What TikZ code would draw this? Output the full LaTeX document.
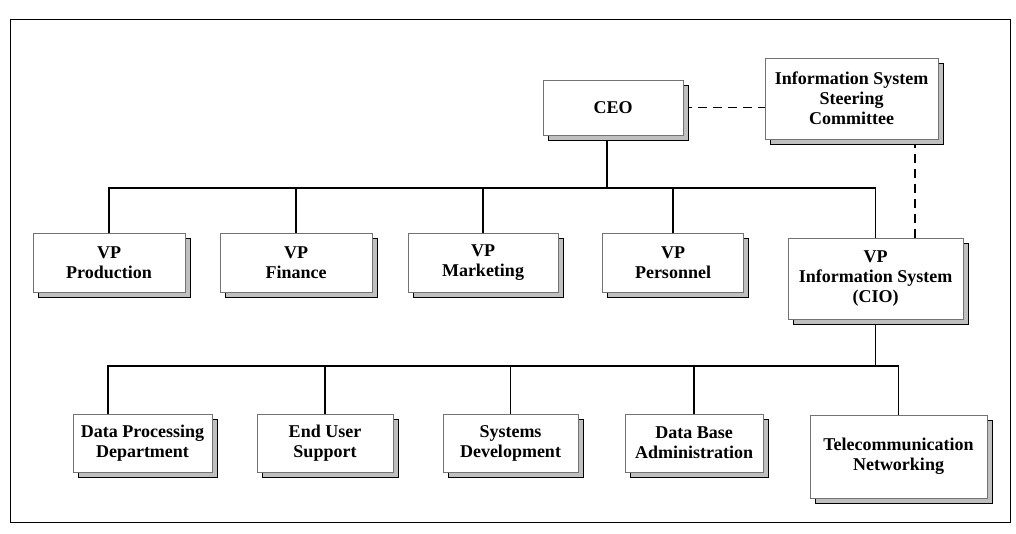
\documentclass[tikz,border=0pt]{standalone}
\usepackage{fontspec}
\setmainfont{Liberation Serif}
\usetikzlibrary{positioning,shadows,backgrounds}

\tikzset{
  orgbox/.style={rectangle,draw=black!55,line width=0.5pt,fill=white,align=center,
    inner sep=2pt,font=\bfseries\fontsize{18}{20}\selectfont,
    general shadow={fill=gray!50,draw=black,line width=1pt,rounded corners=2pt,
      shadow xshift=5pt,shadow yshift=-5pt}},
  orgline/.style={line width=1.6pt},
  linkline/.style={line width=1.3pt,dash pattern=on 9pt off 6pt}
}

\begin{document}
\begin{tikzpicture}[x=1pt,y=-1pt]
     \useasboundingbox (0,0) rectangle (1016,533);
     \draw[line width=1pt] (10,19) rectangle (1010,522);
     \node[orgbox,minimum width=140pt,minimum height=55pt] (ceo) at (613,107.5) {CEO};
     \node[orgbox,minimum width=173pt,minimum height=81pt] (steering) at (851.5,98.5)
     {Information System\\Steering\\Committee};
     \node[orgbox,minimum width=152pt,minimum height=59pt] (vpprod) at (109,262.5) {VP\\Production};
     \node[orgbox,right of=vpprod,node distance=187pt,minimum width=152pt,minimum height=59pt]
     (vpfin) {VP\\Finance};
     \node[orgbox,right of=vpfin,node distance=187pt,minimum width=150pt,minimum height=59pt]
     (vpmkt) {VP\\Marketing};
     \node[orgbox,right of=vpmkt,node distance=190pt,minimum width=141pt,minimum height=59pt]
     (vppers) {VP\\Personnel};
     \node[orgbox,minimum width=175pt,minimum height=81pt] (vpis) at (875.5,278.5)
     {VP\\Information System\\(CIO)};
     \node[orgbox,minimum width=139pt,minimum height=58pt] (dpd) at (142.5,443)
     {Data Processing\\Department};
     \node[orgbox,right of=dpd,node distance=182.5pt,minimum width=136pt,minimum height=58pt]
     (eus) {End User\\Support};
     \node[orgbox,right of=eus,node distance=185.5pt,minimum width=135pt,minimum height=58pt]
     (sysdev) {Systems\\Development};
     \node[orgbox,right of=sysdev,node distance=183.5pt,minimum width=138pt,minimum height=58pt]
     (dba) {Data Base\\Administration};
     \node[orgbox,minimum width=177pt,minimum height=83pt] (telenet) at (898.5,456.5)
     {Telecommunication\\Networking};
     \coordinate (topbus) at (0,188);
     \coordinate (lowbus) at (0,366);
     \begin{scope}[on background layer]
     \draw[linkline] (ceo.east) -- (steering.west |- ceo.east);
     \draw[linkline] ([xshift=63.5pt]steering.south) -- ([xshift=39.5pt]vpis.north);
     \draw[orgline] ([xshift=-6pt]ceo.south) -- ([xshift=-6pt]ceo.south |- topbus);
     \draw[orgline] (vpprod.north) |- (vpis.north |- topbus) -- (vpis.north);
     \draw[orgline] (vpfin.north) -- (vpfin.north |- topbus);
     \draw[orgline] (vpmkt.north) -- (vpmkt.north |- topbus);
     \draw[orgline] (vppers.north) -- (vppers.north |- topbus);
     \draw[orgline] (vpis.south) -- (vpis.south |- lowbus);
     \draw[orgline] ([xshift=-34.5pt]dpd.north) |- (telenet.north |- lowbus) -- (telenet.north);
     \draw[orgline] (eus.north) -- (eus.north |- lowbus);
     \draw[orgline] (sysdev.north) -- (sysdev.north |- lowbus);
     \draw[orgline] (dba.north) -- (dba.north |- lowbus);
     \end{scope}
   \end{tikzpicture}
\end{document}
